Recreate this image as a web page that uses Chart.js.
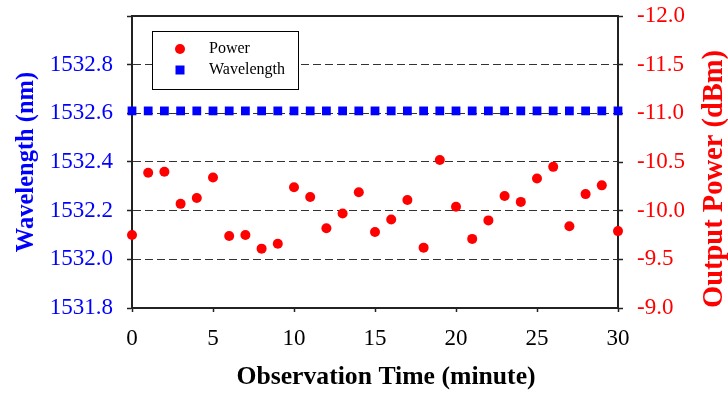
<!DOCTYPE html>
<html>
<head>
<meta charset="utf-8">
<script src="https://cdn.jsdelivr.net/npm/chart.js@4/dist/chart.umd.min.js"></script>
<style>
    body { margin: 0; background: #fff; }
    .chart-container { width: 728px; height: 393px; }
</style>
</head>
<body>
<div class="chart-container">
    <canvas id="chartContext" width="728" height="393"></canvas>
</div>
<script>
// Observation time (minute)
const minutes = [0, 1, 2, 3, 4, 5, 6, 7, 8, 9, 10, 11, 12, 13, 14, 15,
                 16, 17, 18, 19, 20, 21, 22, 23, 24, 25, 26, 27, 28, 29, 30];

// Output power (dBm)
const powerDbm = [-9.75, -10.39, -10.40, -10.07, -10.13, -10.34, -9.74, -9.75, -9.61, -9.66,
                  -10.24, -10.14, -9.82, -9.97, -10.19, -9.78, -9.91, -10.11, -9.62, -10.52,
                  -10.04, -9.71, -9.90, -10.15, -10.09, -10.33, -10.45, -9.84, -10.17, -10.26, -9.79];

// Wavelength (nm), flat line
const wavelengthNm = [1532.61, 1532.61, 1532.61, 1532.61, 1532.61, 1532.61, 1532.61, 1532.61,
                      1532.61, 1532.61, 1532.61, 1532.61, 1532.61, 1532.61, 1532.61, 1532.61,
                      1532.61, 1532.61, 1532.61, 1532.61, 1532.61, 1532.61, 1532.61, 1532.61,
                      1532.61, 1532.61, 1532.61, 1532.61, 1532.61, 1532.61, 1532.61];

const FONT = '"Liberation Serif", "Times New Roman", serif';
const BLUE = "#0000ff";
const RED = "#ff0000";

// Fixed box sizes so the plot area sits where the reference has it
function fixBox(size, vertical) {
    return function (scale) {
        if (vertical) scale.width = size; else scale.height = size;
        scale.paddingTop = 0;
        scale.paddingBottom = 0;
        scale.paddingLeft = 0;
        scale.paddingRight = 0;
    };
}

// Top frame line, titles that Chart.js can't place this way, and the boxed legend
const extrasPlugin = {
    id: "extras",
    afterDraw(chart) {
        const ctx = chart.ctx;
        const area = chart.chartArea;
        ctx.save();

        // top border of the plot
        ctx.strokeStyle = "#222";
        ctx.lineWidth = 2;
        ctx.beginPath();
        ctx.moveTo(area.left - 1, area.top);
        ctx.lineTo(area.right + 1, area.top);
        ctx.stroke();

        // x axis title (sits a bit right of the plot centre)
        ctx.fillStyle = "#000";
        ctx.font = "bold 25.7px " + FONT;
        ctx.textAlign = "center";
        ctx.textBaseline = "middle";
        ctx.fillText("Observation Time (minute)", 386, 377);

        // right axis title, reads bottom-to-top
        ctx.translate(715, 179);
        ctx.rotate(-Math.PI / 2);
        ctx.fillStyle = RED;
        ctx.font = "bold 28.5px " + FONT;
        ctx.fillText("Output Power (dBm)", 0, 0);
        ctx.restore();

        // legend box
        ctx.save();
        ctx.fillStyle = "#fff";
        ctx.fillRect(152.5, 31.5, 146, 58);
        ctx.strokeStyle = "#000";
        ctx.lineWidth = 1;
        ctx.strokeRect(152.5, 31.5, 146, 58);
        ctx.font = "16px " + FONT;
        ctx.textBaseline = "middle";
        ctx.textAlign = "left";
        const rows = [49, 70];
        chart.data.datasets.forEach(function (ds, i) {
            const y = rows[i];
            ctx.fillStyle = ds.backgroundColor;
            if (ds.pointStyle === "rect") {
                ctx.fillRect(175.5, y - 4.5, 9, 9);
            } else {
                ctx.beginPath();
                ctx.arc(180, y, 5, 0, Math.PI * 2);
                ctx.fill();
            }
            ctx.fillStyle = "#000";
            ctx.fillText(ds.label, 209, y);
        });
        ctx.restore();
    },
};

const context = document.getElementById("chartContext");

new Chart(context, {
    type: "scatter",
    data: {
        datasets: [
            {
                label: "Power",
                data: minutes.map((m, i) => ({ x: m, y: powerDbm[i] })),
                yAxisID: "y2",
                backgroundColor: RED,
                borderColor: RED,
                pointStyle: "circle",
                pointRadius: 5,
                borderWidth: 0,
                clip: false,
            },
            {
                label: "Wavelength",
                data: minutes.map((m, i) => ({ x: m, y: wavelengthNm[i] })),
                yAxisID: "y",
                backgroundColor: BLUE,
                borderColor: BLUE,
                pointStyle: "rect",
                pointRadius: 6.2,
                borderWidth: 0,
                clip: false,
            },
        ],
    },
    options: {
        responsive: false,
        animation: false,
        layout: { padding: { top: 16, left: 0, right: 0, bottom: 0 } },
        plugins: {
            legend: { display: false },
            tooltip: { enabled: false },
        },
        scales: {
            x: {
                type: "linear",
                min: 0,
                max: 30,
                afterFit: fixBox(85, false),
                ticks: {
                    stepSize: 5,
                    maxRotation: 0,
                    padding: 13,
                    color: "#000",
                    font: { family: FONT, size: 23 },
                },
                grid: {
                    drawOnChartArea: false,
                    tickLength: 4,
                    tickColor: "#222",
                    tickWidth: 1.5,
                },
                border: { color: "#222", width: 2 },
            },
            y: {
                position: "left",
                min: 1531.8,
                max: 1533.0,
                afterFit: fixBox(132, true),
                ticks: {
                    stepSize: 0.2,
                    autoSkip: false,
                    padding: 14,
                    color: BLUE,
                    font: { family: FONT, size: 23 },
                    callback: (value) => (value > 1532.95 ? "" : value.toFixed(1)),
                },
                grid: {
                    color: (c) => {
                        const v = c.tick ? c.tick.value : 0;
                        return (v < 1531.85 || v > 1532.95) ? "rgba(0,0,0,0)" : "#333";
                    },
                    lineWidth: 1,
                    tickLength: 5,
                    tickColor: "#222",
                    tickWidth: 1.5,
                },
                border: { color: "#222", width: 2, dash: [8, 4] },
                title: {
                    display: true,
                    text: "Wavelength (nm)",
                    color: BLUE,
                    font: { family: FONT, size: 24.5, weight: "bold" },
                    padding: { top: 12, bottom: 0 },
                },
            },
            y2: {
                position: "right",
                min: -12,
                max: -9,
                reverse: true,
                afterFit: fixBox(110, true),
                ticks: {
                    stepSize: 0.5,
                    autoSkip: false,
                    padding: 14,
                    color: RED,
                    font: { family: FONT, size: 23 },
                    callback: (value) => value.toFixed(1),
                },
                grid: {
                    drawOnChartArea: false,
                    tickLength: 5,
                    tickColor: "#222",
                    tickWidth: 1.5,
                },
                border: { color: "#222", width: 2 },
            },
        },
    },
    plugins: [extrasPlugin],
});
</script>
</body>
</html>
